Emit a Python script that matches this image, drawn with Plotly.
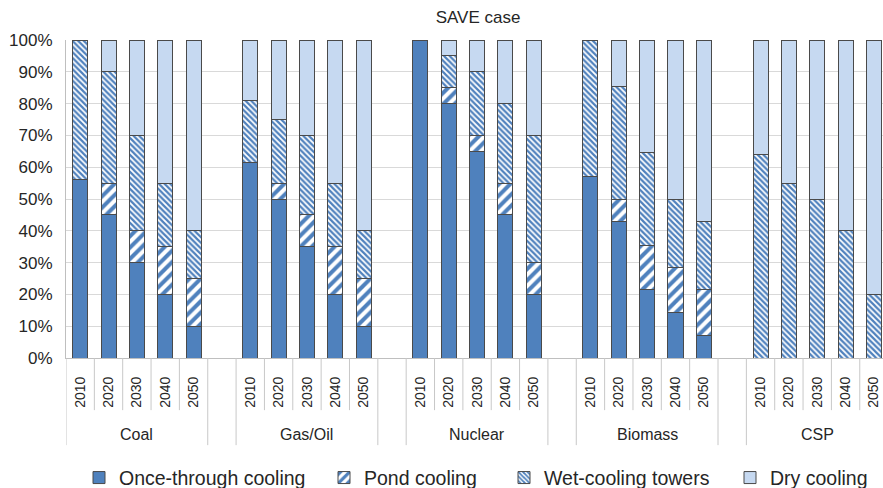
import plotly.graph_objects as go

groups = ["Coal", "Gas/Oil", "Nuclear", "Biomass", "CSP"]
years = ["2010", "2020", "2030", "2040", "2050"]

# shares in % per group, per year
once_through = {
    "Coal":    [56, 45, 30, 20, 10],
    "Gas/Oil": [61.5, 50, 35, 20, 10],
    "Nuclear": [100, 80, 65, 45, 20],
    "Biomass": [57, 42.8, 21.4, 14.3, 7.1],
    "CSP":     [0, 0, 0, 0, 0],
}
pond = {
    "Coal":    [0, 10, 10, 15, 15],
    "Gas/Oil": [0, 5, 10, 15, 15],
    "Nuclear": [0, 5, 5, 10, 10],
    "Biomass": [0, 7.2, 14.1, 14.3, 14.3],
    "CSP":     [0, 0, 0, 0, 0],
}
wet_towers = {
    "Coal":    [44, 35, 30, 20, 15],
    "Gas/Oil": [19.5, 20, 25, 20, 15],
    "Nuclear": [0, 10, 20, 25, 40],
    "Biomass": [43, 35.5, 29, 21.4, 21.4],
    "CSP":     [64, 55, 50, 40, 20],
}
dry = {
    "Coal":    [0, 10, 30, 45, 60],
    "Gas/Oil": [19, 25, 30, 45, 60],
    "Nuclear": [0, 5, 10, 20, 30],
    "Biomass": [0, 14.5, 35.5, 50, 57.2],
    "CSP":     [36, 45, 50, 60, 80],
}

series = [
    ("Once-through cooling", once_through),
    ("Pond cooling", pond),
    ("Wet-cooling towers", wet_towers),
    ("Dry cooling", dry),
]

# slot layout: 5 bars per group + one empty slot between groups
slot_of = {}
pos = 0
group_start = []
for gi, g in enumerate(groups):
    group_start.append(pos)
    for yi, y in enumerate(years):
        slot_of[(g, y)] = pos
        pos += 1
    pos += 1  # gap slot
n_slots = pos - 1

xs = [slot_of[(g, y)] for g in groups for y in years]
tick_text = [y for g in groups for y in years]

BLUE = "#4F81BD"
LIGHT = "#C6D9F1"
EDGE = "#4a4a4a"
TXT = "#262626"

styles = {
    "Once-through cooling": dict(color=BLUE),
    "Pond cooling": dict(color="white", pattern=dict(shape="/", fgcolor=BLUE, bgcolor="white", size=8,
                                                     solidity=0.5, fillmode="replace", fgopacity=1)),
    "Wet-cooling towers": dict(color="white", pattern=dict(shape="\\", fgcolor=BLUE, bgcolor="white", size=4,
                                                           solidity=0.55, fillmode="replace", fgopacity=1)),
    "Dry cooling": dict(color=LIGHT),
}

legend_ids = ["legend", "legend2", "legend3", "legend4"]
legend_x_px = [79, 324, 504, 730]

fig = go.Figure()
for k, (name, data) in enumerate(series):
    vals = [data[g][i] for g in groups for i in range(len(years))]
    vals = [v if v > 0 else None for v in vals]
    m = dict(styles[name])
    m["line"] = dict(color=EDGE, width=1)
    fig.add_trace(go.Bar(x=xs, y=vals, name=name, width=0.53, marker=m, legend=legend_ids[k]))

shapes = []
# dividers below the axis
boundaries = [i - 0.5 for i in range(n_slots + 1)]
long_b = set()
for s in group_start:
    long_b.add(s - 0.5)
    long_b.add(s + 4.5)
for b in boundaries:
    is_long = b in long_b
    shapes.append(dict(type="line", xref="x", yref="paper", x0=b, x1=b, y0=0,
                       y1=-0.274 if is_long else -0.164,
                       line=dict(color="#c8c8c8", width=1)))

annotations = []
for gi, g in enumerate(groups):
    annotations.append(dict(text=g, xref="x", yref="paper", x=group_start[gi] + 2, y=-0.242,
                            yanchor="middle", showarrow=False, font=dict(size=16, color=TXT)))

layout_legends = {}
for k, lid in enumerate(legend_ids):
    layout_legends[lid] = dict(orientation="h", xref="container", yref="paper",
                               x=legend_x_px[k] / 883, xanchor="left",
                               y=-0.377, yanchor="middle", font=dict(size=19.5, color=TXT),
                               bgcolor="rgba(0,0,0,0)")

fig.update_layout(
    width=883, height=488,
    margin=dict(l=66, r=0, t=40, b=130, autoexpand=False),
    paper_bgcolor="white", plot_bgcolor="white",
    barmode="stack",
    font=dict(family="Liberation Sans, Arial, sans-serif", color=TXT),
    title=dict(text="SAVE case", x=478 / 883, xanchor="center", y=1 - 17 / 488, yanchor="middle",
               xref="container", yref="container", font=dict(size=17, color=TXT)),
    xaxis=dict(range=[-0.5, 28.32], tickvals=xs, ticktext=tick_text, tickangle=-90,
               tickfont=dict(size=14), showgrid=False, showline=True, linecolor="#bfbfbf",
               ticks="", ticklabelstandoff=12, zeroline=False, automargin=False),
    yaxis=dict(range=[0, 100], dtick=10, ticksuffix="%", tickfont=dict(size=17),
               showgrid=True, gridcolor="#d9d9d9", showline=True, linecolor="#bfbfbf",
               zeroline=False, ticks="", ticklabelstandoff=9, automargin=False),
    shapes=shapes,
    annotations=annotations,
    showlegend=True,
    **layout_legends,
)

fig.write_html("out.html", config={"displayModeBar": False},
               post_script="document.body.style.margin='0';document.body.style.overflow='hidden';")
